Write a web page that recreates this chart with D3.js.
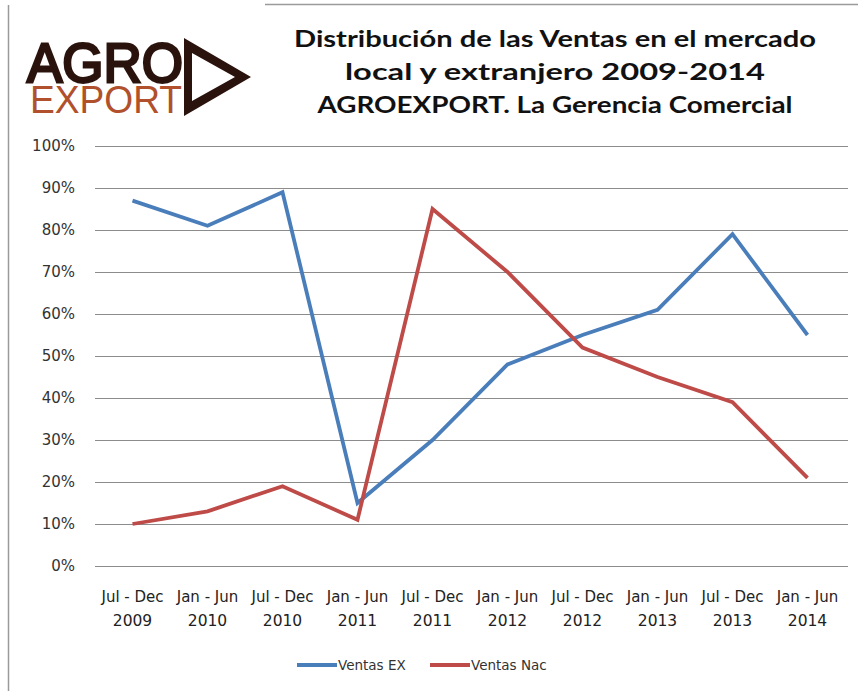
<!DOCTYPE html>
<html>
<head>
<meta charset="utf-8">
<script src="https://cdn.jsdelivr.net/npm/d3@7"></script>
<style>
  body { margin: 0; background: #fff; }
  svg { display: block; }
</style>
</head>
<body>
<svg id="chart" width="858" height="691"></svg>
<script>
// periods (two-line labels)
var periods = ["Jul - Dec", "Jan - Jun", "Jul - Dec", "Jan - Jun", "Jul - Dec",
               "Jan - Jun", "Jul - Dec", "Jan - Jun", "Jul - Dec", "Jan - Jun"]
var years = ["2009", "2010", "2010", "2011", "2011", "2012", "2012", "2013", "2013", "2014"]
var ventasEX = [87, 81, 89, 15, 30, 48, 55, 61, 79, 55]
var ventasNac = [10, 13, 19, 11, 85, 70, 52, 45, 39, 21]
var yTicks = [0, 10, 20, 30, 40, 50, 60, 70, 80, 90, 100]
var titleLines = ["Distribución de las Ventas en el mercado",
                  "local y extranjero 2009-2014",
                  "AGROEXPORT. La Gerencia Comercial"]
var seriesNames = ["Ventas EX", "Ventas Nac"]
var seriesColors = ["#4a7ebb", "#be4b48"]

var svg = d3.select("#chart")
var font = "'DejaVu Sans', Verdana, sans-serif"

// frame lines
svg.append("line").attr("x1", 8.5).attr("x2", 8.5).attr("y1", 5).attr("y2", 691)
    .attr("stroke", "#9a9a9a").attr("stroke-width", 1.5)
svg.append("line").attr("x1", 265).attr("x2", 858).attr("y1", 4.5).attr("y2", 4.5)
    .attr("stroke", "#9a9a9a").attr("stroke-width", 1.5)

// logo: one text, two lines
var logo = svg.append("g").attr("class", "logo")
var lt = logo.append("text")
    .attr("font-family", "'Liberation Sans', Arial, sans-serif")
lt.append("tspan").attr("x", 27).attr("y", 82)
    .attr("font-size", 56)
    .attr("fill", "#2b130d").attr("stroke", "#2b130d").attr("stroke-width", 2.8)
    .attr("textLength", 156).attr("lengthAdjust", "spacingAndGlyphs")
    .text("AGRO")
lt.append("tspan").attr("x", 30).attr("y", 113)
    .attr("font-size", 38)
    .attr("fill", "#b0502c")
    .attr("textLength", 152).attr("lengthAdjust", "spacingAndGlyphs")
    .text("EXPORT")
logo.append("path")
    .attr("d", "M184,38 L251,77 L184,116 Z M192,53 L235,77 L192,101 Z")
    .attr("fill-rule", "evenodd")
    .attr("fill", "#2b130d")

// title
var titleW = [522, 420, 475]
svg.append("g").selectAll("text")
    .data(titleLines)
    .enter().append("text")
    .attr("x", 555)
    .attr("y", function(d, i) { return 47 + i * 33 })
    .attr("text-anchor", "middle")
    .attr("font-family", "Lato, 'Open Sans', sans-serif")
    .attr("font-weight", "bold")
    .attr("font-size", 23.5)
    .attr("fill", "#111")
    .attr("textLength", function(d, i) { return titleW[i] })
    .attr("lengthAdjust", "spacingAndGlyphs")
    .text(function(d) { return d })

// scales
var x = d3.scaleBand().domain(d3.range(periods.length)).range([95, 845])
var y = d3.scaleLinear().domain([0, 100]).range([566, 146])

// grid
var yAxis = d3.axisLeft(y).tickValues(yTicks)
    .tickSize(-753).tickPadding(20)
    .tickFormat(function(d) { return d + "%" })
var gy = svg.append("g").attr("transform", "translate(95,0)").call(yAxis)
gy.select(".domain").remove()
gy.selectAll(".tick line").attr("stroke", "#8c8c8c").attr("stroke-width", 1.2)
gy.selectAll(".tick text").attr("font-family", font).attr("font-size", 15)
    .attr("fill", "#333")

// x labels
var xl = svg.append("g").selectAll("g")
    .data(periods)
    .enter().append("g")
    .attr("transform", function(d, i) { return "translate(" + (x(i) + x.bandwidth() / 2) + ",0)" })
xl.append("text").attr("y", 602).attr("text-anchor", "middle")
    .attr("font-family", font).attr("font-size", 15).attr("fill", "#222")
    .text(function(d) { return d })
xl.append("text").attr("y", 626).attr("text-anchor", "middle")
    .attr("font-family", font).attr("font-size", 15.5).attr("fill", "#222")
    .text(function(d, i) { return years[i] })

// lines
var line = d3.line()
    .x(function(d, i) { return x(i) + x.bandwidth() / 2 })
    .y(function(d) { return y(d) })

svg.append("g").selectAll("path")
    .data([ventasEX, ventasNac])
    .enter().append("path")
    .attr("d", line)
    .attr("fill", "none")
    .attr("stroke", function(d, i) { return seriesColors[i] })
    .attr("stroke-width", 3.8)
    .attr("stroke-linejoin", "miter")

// legend
var legX = [297, 430]
var leg = svg.append("g").selectAll("g")
    .data(seriesNames)
    .enter().append("g")
    .attr("transform", function(d, i) { return "translate(" + legX[i] + ",665)" })
leg.append("line").attr("x1", 0).attr("x2", 40).attr("y1", 0).attr("y2", 0)
    .attr("stroke", function(d, i) { return seriesColors[i] })
    .attr("stroke-width", 3.8)
leg.append("text").attr("x", 41).attr("y", 5)
    .attr("font-family", font).attr("font-size", 13.5).attr("fill", "#333")
    .text(function(d) { return d })
</script>
</body>
</html>
